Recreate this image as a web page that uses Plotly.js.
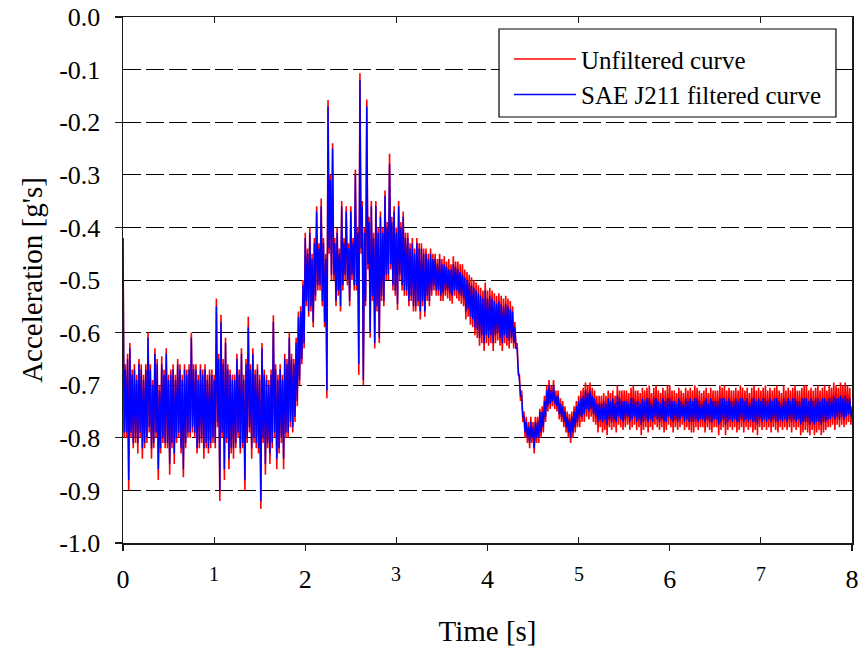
<!DOCTYPE html>
<html>
<head>
<meta charset="utf-8">
<script src="https://cdn.plot.ly/plotly-3.0.1.min.js"></script>
<style>html,body{margin:0;padding:0;background:#fff;}#chart{width:864px;height:654px;}</style>
</head>
<body>
<div id="chart"></div>
<script>
// Sampling of the recorded signals (seconds)
const timeStart = 0;
const timeStep = 0.0125;

// Unfiltered acceleration [g's] (upper/lower swings alternate)
const unfiltered = [
-0.42,-0.80,-0.66,-0.80,-0.64,-0.90,-0.62,-0.80,-0.67,-0.82,-0.66,-0.81,-0.68,-0.83,-0.65,-0.80,-0.66,-0.84,-0.68,-0.82,
-0.66,-0.81,-0.60,-0.79,-0.66,-0.84,-0.69,-0.82,-0.63,-0.80,-0.65,-0.88,-0.70,-0.83,-0.645,-0.81,-0.67,-0.82,-0.63,-0.82,
-0.68,-0.87,-0.67,-0.82,-0.66,-0.85,-0.68,-0.81,-0.65,-0.80,-0.66,-0.83,-0.68,-0.875,-0.66,-0.82,-0.67,-0.80,-0.66,-0.80,
-0.60,-0.79,-0.66,-0.80,-0.66,-0.83,-0.68,-0.82,-0.66,-0.81,-0.67,-0.84,-0.66,-0.82,-0.68,-0.83,-0.67,-0.82,-0.67,-0.81,
-0.68,-0.82,-0.535,-0.78,-0.64,-0.92,-0.566,-0.80,-0.65,-0.88,-0.61,-0.81,-0.66,-0.86,-0.67,-0.83,-0.68,-0.84,-0.68,-0.82,
-0.64,-0.80,-0.67,-0.83,-0.63,-0.82,-0.68,-0.90,-0.65,-0.81,-0.57,-0.79,-0.66,-0.84,-0.63,-0.81,-0.67,-0.82,-0.66,-0.83,
-0.68,-0.935,-0.62,-0.81,-0.67,-0.87,-0.68,-0.82,-0.69,-0.85,-0.67,-0.82,-0.567,-0.80,-0.66,-0.86,-0.68,-0.83,-0.66,-0.81,
-0.68,-0.86,-0.64,-0.80,-0.65,-0.80,-0.60,-0.78,-0.64,-0.79,-0.65,-0.77,-0.61,-0.74,-0.56,-0.70,-0.55,-0.66,-0.50,-0.63,
-0.41,-0.55,-0.44,-0.57,-0.40,-0.56,-0.45,-0.59,-0.42,-0.54,-0.36,-0.52,-0.43,-0.52,-0.345,-0.55,-0.42,-0.59,-0.45,-0.725,
-0.158,-0.45,-0.30,-0.50,-0.24,-0.50,-0.42,-0.55,-0.40,-0.53,-0.44,-0.56,-0.35,-0.52,-0.42,-0.50,-0.36,-0.51,-0.43,-0.55,
-0.36,-0.50,-0.42,-0.52,-0.29,-0.52,-0.40,-0.68,-0.107,-0.45,-0.35,-0.70,-0.40,-0.55,-0.157,-0.48,-0.38,-0.61,-0.35,-0.54,
-0.41,-0.63,-0.35,-0.56,-0.40,-0.62,-0.37,-0.54,-0.40,-0.55,-0.33,-0.50,-0.39,-0.50,-0.26,-0.48,-0.38,-0.52,-0.36,-0.53,
-0.40,-0.557,-0.35,-0.50,-0.39,-0.52,-0.37,-0.53,-0.41,-0.53,-0.41,-0.55,-0.43,-0.54,-0.42,-0.56,-0.44,-0.56,-0.42,-0.55,
-0.43,-0.575,-0.43,-0.55,-0.44,-0.57,-0.44,-0.54,-0.45,-0.55,-0.44,-0.53,-0.45,-0.52,-0.45,-0.53,-0.46,-0.53,-0.45,-0.54,
-0.46,-0.54,-0.455,-0.53,-0.465,-0.535,-0.46,-0.54,-0.47,-0.545,-0.455,-0.53,-0.465,-0.535,-0.465,-0.54,-0.47,-0.545,-0.47,-0.55,
-0.48,-0.575,-0.485,-0.57,-0.49,-0.585,-0.495,-0.59,-0.50,-0.605,-0.505,-0.61,-0.51,-0.625,-0.515,-0.62,-0.52,-0.635,-0.505,-0.62,
-0.52,-0.625,-0.515,-0.62,-0.52,-0.635,-0.525,-0.62,-0.53,-0.615,-0.525,-0.625,-0.53,-0.635,-0.535,-0.62,-0.53,-0.625,-0.535,-0.63,
-0.54,-0.62,-0.55,-0.63,-0.58,-0.63,-0.62,-0.68,-0.68,-0.73,-0.71,-0.77,-0.75,-0.80,-0.76,-0.81,-0.77,-0.82,-0.76,-0.81,
-0.77,-0.83,-0.76,-0.81,-0.76,-0.81,-0.745,-0.80,-0.74,-0.79,-0.72,-0.77,-0.70,-0.75,-0.69,-0.745,-0.70,-0.74,-0.69,-0.745,
-0.71,-0.75,-0.71,-0.765,-0.725,-0.77,-0.73,-0.78,-0.74,-0.79,-0.75,-0.80,-0.755,-0.81,-0.75,-0.80,-0.74,-0.79,-0.73,-0.78,
-0.72,-0.78,-0.71,-0.77,-0.705,-0.77,-0.695,-0.76,-0.70,-0.765,-0.695,-0.76,-0.705,-0.77,-0.71,-0.775,-0.72,-0.79,-0.72,-0.78,
-0.72,-0.79,-0.715,-0.785,-0.72,-0.795,-0.71,-0.78,-0.715,-0.785,-0.71,-0.78,-0.72,-0.79,-0.70,-0.775,-0.71,-0.78,-0.71,-0.785,
-0.71,-0.78,-0.71,-0.775,-0.715,-0.785,-0.705,-0.78,-0.70,-0.775,-0.71,-0.785,-0.71,-0.78,-0.715,-0.795,-0.705,-0.785,-0.71,-0.78,
-0.705,-0.79,-0.70,-0.78,-0.715,-0.785,-0.705,-0.775,-0.70,-0.78,-0.71,-0.785,-0.715,-0.78,-0.705,-0.79,-0.71,-0.785,-0.70,-0.775,
-0.70,-0.78,-0.71,-0.79,-0.71,-0.78,-0.715,-0.785,-0.705,-0.78,-0.71,-0.775,-0.715,-0.785,-0.705,-0.78,-0.71,-0.785,-0.705,-0.79,
-0.71,-0.79,-0.70,-0.78,-0.705,-0.785,-0.71,-0.78,-0.715,-0.78,-0.71,-0.79,-0.705,-0.78,-0.715,-0.785,-0.705,-0.79,-0.71,-0.78,
-0.71,-0.78,-0.71,-0.795,-0.70,-0.785,-0.705,-0.78,-0.70,-0.795,-0.71,-0.785,-0.705,-0.78,-0.71,-0.785,-0.71,-0.78,-0.705,-0.79,
-0.71,-0.785,-0.70,-0.78,-0.705,-0.79,-0.71,-0.78,-0.705,-0.785,-0.715,-0.78,-0.705,-0.79,-0.70,-0.785,-0.71,-0.795,-0.705,-0.78,
-0.71,-0.785,-0.705,-0.78,-0.70,-0.785,-0.71,-0.78,-0.705,-0.79,-0.71,-0.78,-0.705,-0.785,-0.70,-0.79,-0.71,-0.78,-0.715,-0.785,
-0.70,-0.78,-0.71,-0.785,-0.705,-0.78,-0.71,-0.79,-0.705,-0.78,-0.70,-0.785,-0.71,-0.78,-0.71,-0.795,-0.705,-0.79,-0.70,-0.785,
-0.70,-0.79,-0.71,-0.795,-0.705,-0.785,-0.71,-0.795,-0.705,-0.79,-0.70,-0.785,-0.71,-0.795,-0.705,-0.79,-0.70,-0.785,-0.71,-0.78,
-0.70,-0.78,-0.705,-0.775,-0.695,-0.785,-0.70,-0.775,-0.705,-0.78,-0.695,-0.775,-0.70,-0.78,-0.695,-0.775,-0.70,-0.77,-0.705,-0.775,
-0.74
];

// SAE J211 filtered acceleration [g's] (upper/lower swings alternate)
const filtered = [
-0.42,-0.79,-0.67,-0.79,-0.65,-0.88,-0.63,-0.79,-0.68,-0.81,-0.67,-0.80,-0.69,-0.81,-0.66,-0.79,-0.67,-0.82,-0.69,-0.81,
-0.67,-0.80,-0.61,-0.78,-0.67,-0.82,-0.70,-0.81,-0.64,-0.79,-0.66,-0.86,-0.71,-0.82,-0.66,-0.80,-0.68,-0.81,-0.64,-0.81,
-0.69,-0.85,-0.68,-0.81,-0.67,-0.83,-0.69,-0.80,-0.66,-0.79,-0.67,-0.82,-0.69,-0.86,-0.67,-0.81,-0.68,-0.79,-0.67,-0.79,
-0.61,-0.78,-0.67,-0.79,-0.67,-0.82,-0.69,-0.81,-0.67,-0.80,-0.68,-0.82,-0.67,-0.81,-0.69,-0.82,-0.68,-0.81,-0.68,-0.80,
-0.69,-0.81,-0.55,-0.77,-0.65,-0.90,-0.58,-0.79,-0.66,-0.86,-0.62,-0.80,-0.67,-0.84,-0.68,-0.82,-0.69,-0.82,-0.69,-0.81,
-0.65,-0.79,-0.68,-0.82,-0.64,-0.81,-0.69,-0.88,-0.66,-0.80,-0.59,-0.78,-0.67,-0.82,-0.64,-0.80,-0.68,-0.81,-0.67,-0.82,
-0.69,-0.92,-0.63,-0.80,-0.68,-0.85,-0.69,-0.81,-0.70,-0.83,-0.68,-0.81,-0.58,-0.79,-0.67,-0.84,-0.69,-0.82,-0.67,-0.80,
-0.69,-0.84,-0.65,-0.79,-0.66,-0.79,-0.61,-0.77,-0.65,-0.78,-0.66,-0.76,-0.62,-0.73,-0.57,-0.69,-0.56,-0.65,-0.51,-0.62,
-0.42,-0.54,-0.45,-0.56,-0.41,-0.55,-0.46,-0.58,-0.43,-0.53,-0.37,-0.51,-0.44,-0.51,-0.36,-0.54,-0.43,-0.58,-0.46,-0.71,
-0.17,-0.44,-0.31,-0.49,-0.25,-0.49,-0.43,-0.54,-0.41,-0.52,-0.45,-0.55,-0.36,-0.51,-0.43,-0.49,-0.37,-0.50,-0.44,-0.54,
-0.37,-0.49,-0.43,-0.51,-0.30,-0.51,-0.41,-0.66,-0.12,-0.44,-0.36,-0.69,-0.41,-0.54,-0.17,-0.47,-0.39,-0.60,-0.36,-0.53,
-0.42,-0.62,-0.36,-0.55,-0.41,-0.61,-0.38,-0.53,-0.41,-0.54,-0.34,-0.49,-0.40,-0.49,-0.28,-0.47,-0.39,-0.51,-0.37,-0.52,
-0.41,-0.545,-0.36,-0.49,-0.40,-0.51,-0.38,-0.52,-0.42,-0.52,-0.42,-0.54,-0.44,-0.53,-0.43,-0.55,-0.45,-0.55,-0.43,-0.54,
-0.44,-0.56,-0.44,-0.54,-0.45,-0.56,-0.45,-0.53,-0.46,-0.54,-0.45,-0.52,-0.46,-0.51,-0.46,-0.52,-0.47,-0.52,-0.46,-0.53,
-0.47,-0.525,-0.47,-0.52,-0.475,-0.52,-0.48,-0.525,-0.48,-0.53,-0.47,-0.52,-0.475,-0.52,-0.48,-0.525,-0.485,-0.53,-0.49,-0.535,
-0.495,-0.56,-0.50,-0.555,-0.505,-0.57,-0.51,-0.575,-0.515,-0.59,-0.52,-0.595,-0.525,-0.61,-0.53,-0.605,-0.535,-0.62,-0.52,-0.605,
-0.535,-0.61,-0.53,-0.605,-0.535,-0.62,-0.54,-0.605,-0.545,-0.60,-0.54,-0.61,-0.545,-0.62,-0.55,-0.605,-0.545,-0.61,-0.55,-0.615,
-0.555,-0.61,-0.56,-0.62,-0.59,-0.63,-0.63,-0.67,-0.69,-0.72,-0.72,-0.76,-0.76,-0.79,-0.77,-0.80,-0.78,-0.81,-0.77,-0.80,
-0.78,-0.82,-0.77,-0.80,-0.77,-0.80,-0.75,-0.79,-0.75,-0.78,-0.73,-0.76,-0.71,-0.74,-0.70,-0.735,-0.71,-0.73,-0.70,-0.735,
-0.72,-0.74,-0.72,-0.755,-0.735,-0.76,-0.74,-0.77,-0.75,-0.78,-0.76,-0.79,-0.765,-0.80,-0.76,-0.79,-0.75,-0.78,-0.74,-0.77,
-0.73,-0.76,-0.725,-0.76,-0.72,-0.755,-0.71,-0.745,-0.715,-0.75,-0.71,-0.745,-0.72,-0.755,-0.725,-0.76,-0.735,-0.77,-0.735,-0.765,
-0.735,-0.77,-0.73,-0.765,-0.735,-0.775,-0.725,-0.765,-0.73,-0.77,-0.725,-0.765,-0.735,-0.77,-0.72,-0.76,-0.725,-0.765,-0.73,-0.77,
-0.73,-0.765,-0.73,-0.76,-0.735,-0.77,-0.725,-0.765,-0.725,-0.76,-0.73,-0.77,-0.73,-0.765,-0.735,-0.775,-0.725,-0.77,-0.73,-0.765,
-0.725,-0.77,-0.725,-0.765,-0.735,-0.77,-0.725,-0.76,-0.725,-0.765,-0.73,-0.77,-0.735,-0.765,-0.725,-0.77,-0.73,-0.77,-0.725,-0.76,
-0.725,-0.765,-0.73,-0.77,-0.73,-0.765,-0.735,-0.77,-0.725,-0.765,-0.73,-0.76,-0.735,-0.77,-0.725,-0.765,-0.73,-0.77,-0.725,-0.77,
-0.73,-0.77,-0.725,-0.765,-0.725,-0.77,-0.73,-0.765,-0.735,-0.765,-0.73,-0.77,-0.725,-0.765,-0.735,-0.77,-0.725,-0.77,-0.73,-0.765,
-0.73,-0.765,-0.73,-0.775,-0.725,-0.77,-0.725,-0.765,-0.725,-0.775,-0.73,-0.77,-0.725,-0.765,-0.73,-0.77,-0.73,-0.765,-0.725,-0.77,
-0.73,-0.77,-0.725,-0.765,-0.725,-0.77,-0.73,-0.765,-0.725,-0.77,-0.735,-0.765,-0.725,-0.77,-0.725,-0.77,-0.73,-0.775,-0.725,-0.765,
-0.73,-0.77,-0.725,-0.765,-0.725,-0.77,-0.73,-0.765,-0.725,-0.77,-0.73,-0.765,-0.725,-0.77,-0.725,-0.77,-0.73,-0.765,-0.735,-0.77,
-0.725,-0.765,-0.73,-0.77,-0.725,-0.765,-0.73,-0.77,-0.725,-0.765,-0.725,-0.77,-0.73,-0.765,-0.73,-0.775,-0.725,-0.77,-0.725,-0.77,
-0.725,-0.77,-0.73,-0.775,-0.725,-0.77,-0.73,-0.775,-0.725,-0.77,-0.725,-0.77,-0.73,-0.775,-0.725,-0.77,-0.725,-0.77,-0.73,-0.765,
-0.725,-0.765,-0.725,-0.76,-0.72,-0.765,-0.725,-0.76,-0.725,-0.765,-0.72,-0.76,-0.725,-0.765,-0.72,-0.76,-0.725,-0.755,-0.725,-0.76,
-0.745
];

const seriesNames = ["Unfiltered curve", "SAE J211 filtered curve"];
const seriesColors = ["#ff0000", "#0000ff"];

// Axis ticks
const xMajorVals = [0, 2, 4, 6, 8];
const xMajorText = ["0", "2", "4", "6", "8"];
const xMinorVals = [1, 3, 5, 7];
const xMinorText = ["1", "3", "5", "7"];
const yLabelVals = [0, -0.1, -0.2, -0.3, -0.4, -0.5, -0.6, -0.7, -0.8, -0.9, -1.0];
const yLabelText = ["0.0", "-0.1", "-0.2", "-0.3", "-0.4", "-0.5", "-0.6", "-0.7", "-0.8", "-0.9", "-1.0"];
const yTickMarkVals = [0, -0.2, -0.4, -0.6, -0.8, -1.0];

const FONT = "Liberation Serif, Times New Roman, serif";

const traces = [
  {type: "scatter", mode: "lines", name: seriesNames[0], x0: timeStart, dx: timeStep, y: unfiltered,
   line: {color: seriesColors[0], width: 1.6, simplify: false}},
  {type: "scatter", mode: "lines", name: seriesNames[1], x0: timeStart, dx: timeStep, y: filtered,
   line: {color: seriesColors[1], width: 1.4, simplify: false}},
  // helpers carrying the extra tick axes
  {type: "scatter", mode: "lines", x: [], y: [], xaxis: "x2", yaxis: "y", showlegend: false, hoverinfo: "skip"},
  {type: "scatter", mode: "lines", x: [], y: [], xaxis: "x", yaxis: "y2", showlegend: false, hoverinfo: "skip"}
];

const axisLine = {showline: true, linecolor: "#1a1a1a", linewidth: 1.5, zeroline: false};

// small odd-second labels, raised like in the original
const oddLabels = xMinorVals.map((v, i) => ({
  x: v, xref: "x", y: -0.034, yref: "paper", yanchor: "top", xanchor: "center",
  text: xMinorText[i], showarrow: false, font: {family: FONT, size: 20, color: "#000"}
}));

const layout = {
  width: 864, height: 654,
  margin: {l: 123, r: 12, t: 17, b: 111},
  paper_bgcolor: "#ffffff", plot_bgcolor: "#ffffff",
  font: {family: FONT, color: "#000000", size: 24},
  showlegend: true,
  legend: {
    x: 0.5295, y: 0.9635, xanchor: "left", yanchor: "top",
    bgcolor: "rgba(0,0,0,0)", borderwidth: 0, itemwidth: 62,
    font: {family: FONT, size: 25, color: "#000000"}
  },
  shapes: [{
    type: "rect", xref: "paper", yref: "paper", x0: 0.5158, x1: 0.978, y0: 0.8099, y1: 0.9772,
    line: {color: "#000000", width: 1.2}, fillcolor: "#ffffff", layer: "above"
  }],
  annotations: oddLabels,
  xaxis: Object.assign({}, axisLine, {
    range: [0, 8], mirror: true, showgrid: false,
    tickmode: "array", tickvals: xMajorVals, ticktext: xMajorText,
    ticks: "outside", ticklen: 6, tickwidth: 1.2, tickcolor: "#1a1a1a",
    ticklabelstandoff: 6,
    tickfont: {family: FONT, size: 26, color: "#000"},
    title: {text: "Time [s]", font: {family: FONT, size: 29, color: "#000"}, standoff: 28}
  }),
  xaxis2: Object.assign({}, axisLine, {
    overlaying: "x", anchor: "y", side: "bottom", range: [0, 8], mirror: "ticks", showgrid: false,
    tickmode: "array", tickvals: xMinorVals, showticklabels: false,
    ticks: "inside", ticklen: 6, tickwidth: 1.2, tickcolor: "#1a1a1a"
  }),
  yaxis: Object.assign({}, axisLine, {
    range: [-1, 0], mirror: true,
    tickmode: "array", tickvals: yLabelVals, ticktext: yLabelText,
    ticks: "", ticklabelstandoff: 16,
    showgrid: true, gridcolor: "#000000", gridwidth: 1, griddash: "18px,5px",
    tickfont: {family: FONT, size: 26, color: "#000"},
    title: {text: "Acceleration [g's]", font: {family: FONT, size: 29, color: "#000"}, standoff: 8}
  }),
  yaxis2: Object.assign({}, axisLine, {
    overlaying: "y", anchor: "x", side: "left", range: [-1, 0], showgrid: false,
    tickmode: "array", tickvals: yTickMarkVals, showticklabels: false,
    ticks: "outside", ticklen: 7, tickwidth: 1.2, tickcolor: "#1a1a1a"
  })
};

Plotly.newPlot("chart", traces, layout, {displayModeBar: false, staticPlot: true});
</script>
</body>
</html>
